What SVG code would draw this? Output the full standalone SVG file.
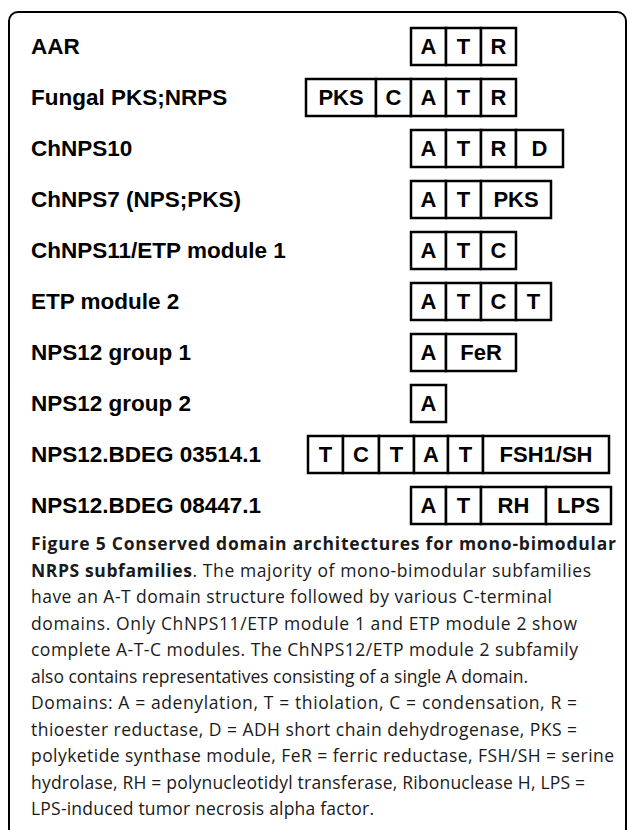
<svg xmlns="http://www.w3.org/2000/svg" width="627" height="830" viewBox="0 0 627 830">
<style>
.frame{fill:none;stroke:#000;stroke-width:2}
.lbl{font-family:"Liberation Sans",Arial,sans-serif;font-weight:bold;font-size:22.5px;fill:#000}
.dom{font-family:"Liberation Sans",Arial,sans-serif;font-weight:bold;font-size:22px;fill:#000;text-anchor:middle}
.box{fill:#fff;stroke:#000;stroke-width:2.5}
.cap{font-family:"Open Sans","Noto Sans",sans-serif;font-size:17.5px;fill:#1a1a1a}
.capb{font-weight:bold}
</style>
<rect class="frame" x="9" y="12" width="617" height="860" rx="9"/>
<g id="connectors"></g>

<g id="row-aar" transform="translate(0,28)">
<text class="lbl" x="31" y="26">AAR</text>
<rect class="box" x="411" y="0" width="35" height="37"/><text class="dom" x="428.5" y="26">A</text>
<rect class="box" x="446" y="0" width="35" height="37"/><text class="dom" x="463.5" y="26">T</text>
<rect class="box" x="481" y="0" width="35" height="37"/><text class="dom" x="498.5" y="26">R</text>
</g>

<g id="row-fungal" transform="translate(0,79)">
<text class="lbl" x="31" y="26">Fungal PKS;NRPS</text>
<rect class="box" x="306" y="0" width="70" height="37"/><text class="dom" x="341" y="26">PKS</text>
<rect class="box" x="376" y="0" width="35" height="37"/><text class="dom" x="393.5" y="26">C</text>
<rect class="box" x="411" y="0" width="35" height="37"/><text class="dom" x="428.5" y="26">A</text>
<rect class="box" x="446" y="0" width="35" height="37"/><text class="dom" x="463.5" y="26">T</text>
<rect class="box" x="481" y="0" width="35" height="37"/><text class="dom" x="498.5" y="26">R</text>
</g>

<g id="row-chnps10" transform="translate(0,130)">
<text class="lbl" x="31" y="26">ChNPS10</text>
<rect class="box" x="411" y="0" width="35" height="37"/><text class="dom" x="428.5" y="26">A</text>
<rect class="box" x="446" y="0" width="35" height="37"/><text class="dom" x="463.5" y="26">T</text>
<rect class="box" x="481" y="0" width="35" height="37"/><text class="dom" x="498.5" y="26">R</text>
<rect class="box" x="516" y="0" width="47" height="37"/><text class="dom" x="539.5" y="26">D</text>
</g>

<g id="row-chnps7" transform="translate(0,181)">
<text class="lbl" x="31" y="26">ChNPS7 (NPS;PKS)</text>
<rect class="box" x="411" y="0" width="35" height="37"/><text class="dom" x="428.5" y="26">A</text>
<rect class="box" x="446" y="0" width="35" height="37"/><text class="dom" x="463.5" y="26">T</text>
<rect class="box" x="481" y="0" width="70" height="37"/><text class="dom" x="516" y="26">PKS</text>
</g>

<g id="row-chnps11" transform="translate(0,232)">
<text class="lbl" x="31" y="26">ChNPS11/ETP module 1</text>
<rect class="box" x="411" y="0" width="35" height="37"/><text class="dom" x="428.5" y="26">A</text>
<rect class="box" x="446" y="0" width="35" height="37"/><text class="dom" x="463.5" y="26">T</text>
<rect class="box" x="481" y="0" width="35" height="37"/><text class="dom" x="498.5" y="26">C</text>
</g>

<g id="row-etp2" transform="translate(0,283)">
<text class="lbl" x="31" y="26">ETP module 2</text>
<rect class="box" x="411" y="0" width="35" height="37"/><text class="dom" x="428.5" y="26">A</text>
<rect class="box" x="446" y="0" width="35" height="37"/><text class="dom" x="463.5" y="26">T</text>
<rect class="box" x="481" y="0" width="35" height="37"/><text class="dom" x="498.5" y="26">C</text>
<rect class="box" x="516" y="0" width="35" height="37"/><text class="dom" x="533.5" y="26">T</text>
</g>

<g id="row-nps12g1" transform="translate(0,334)">
<text class="lbl" x="31" y="26">NPS12 group 1</text>
<rect class="box" x="411" y="0" width="35" height="37"/><text class="dom" x="428.5" y="26">A</text>
<rect class="box" x="446" y="0" width="70" height="37"/><text class="dom" x="481" y="26">FeR</text>
</g>

<g id="row-nps12g2" transform="translate(0,385)">
<text class="lbl" x="31" y="26">NPS12 group 2</text>
<rect class="box" x="411" y="0" width="35" height="37"/><text class="dom" x="428.5" y="26">A</text>
</g>

<g id="row-bdeg03514" transform="translate(0,436)">
<text class="lbl" x="31" y="26">NPS12.BDEG 03514.1</text>
<rect class="box" x="308" y="0" width="35" height="37"/><text class="dom" x="325.5" y="26">T</text>
<rect class="box" x="343" y="0" width="36" height="37"/><text class="dom" x="361" y="26">C</text>
<rect class="box" x="379" y="0" width="35" height="37"/><text class="dom" x="396.5" y="26">T</text>
<rect class="box" x="414" y="0" width="34" height="37"/><text class="dom" x="431" y="26">A</text>
<rect class="box" x="448" y="0" width="35" height="37"/><text class="dom" x="465.5" y="26">T</text>
<rect class="box" x="483" y="0" width="126" height="37"/><text class="dom" x="546" y="26">FSH1/SH</text>
</g>

<g id="row-bdeg08447" transform="translate(0,487)">
<text class="lbl" x="31" y="26">NPS12.BDEG 08447.1</text>
<rect class="box" x="411" y="0" width="35" height="37"/><text class="dom" x="428.5" y="26">A</text>
<rect class="box" x="446" y="0" width="35" height="37"/><text class="dom" x="463.5" y="26">T</text>
<rect class="box" x="481" y="0" width="65" height="37"/><text class="dom" x="513.5" y="26">RH</text>
<rect class="box" x="546" y="0" width="65" height="37"/><text class="dom" x="578.5" y="26">LPS</text>
</g>

<g id="caption">
<text class="cap capb" x="31" y="550" textLength="585" lengthAdjust="spacing">Figure 5 Conserved domain architectures for mono-bimodular</text>
<text class="cap" x="31" y="576.5" textLength="560" lengthAdjust="spacing"><tspan class="capb">NRPS subfamilies</tspan>. The majority of mono-bimodular subfamilies</text>
<text class="cap" x="31" y="603" textLength="521" lengthAdjust="spacing">have an A-T domain structure followed by various C-terminal</text>
<text class="cap" x="31" y="629.5" textLength="546" lengthAdjust="spacing">domains. Only ChNPS11/ETP module 1 and ETP module 2 show</text>
<text class="cap" x="31" y="656" textLength="547" lengthAdjust="spacing">complete A-T-C modules. The ChNPS12/ETP module 2 subfamily</text>
<text class="cap" x="31" y="682.5" textLength="497" lengthAdjust="spacing">also contains representatives consisting of a single A domain.</text>
<text class="cap" x="31" y="709" textLength="546" lengthAdjust="spacing">Domains: A = adenylation, T = thiolation, C = condensation, R =</text>
<text class="cap" x="31" y="735.5" textLength="546" lengthAdjust="spacing">thioester reductase, D = ADH short chain dehydrogenase, PKS =</text>
<text class="cap" x="31" y="762" textLength="583" lengthAdjust="spacing">polyketide synthase module, FeR = ferric reductase, FSH/SH = serine</text>
<text class="cap" x="31" y="788.5" textLength="554" lengthAdjust="spacing">hydrolase, RH = polynucleotidyl transferase, Ribonuclease H, LPS =</text>
<text class="cap" x="31" y="815" textLength="343" lengthAdjust="spacing">LPS-induced tumor necrosis alpha factor.</text>
</g>
</svg>
